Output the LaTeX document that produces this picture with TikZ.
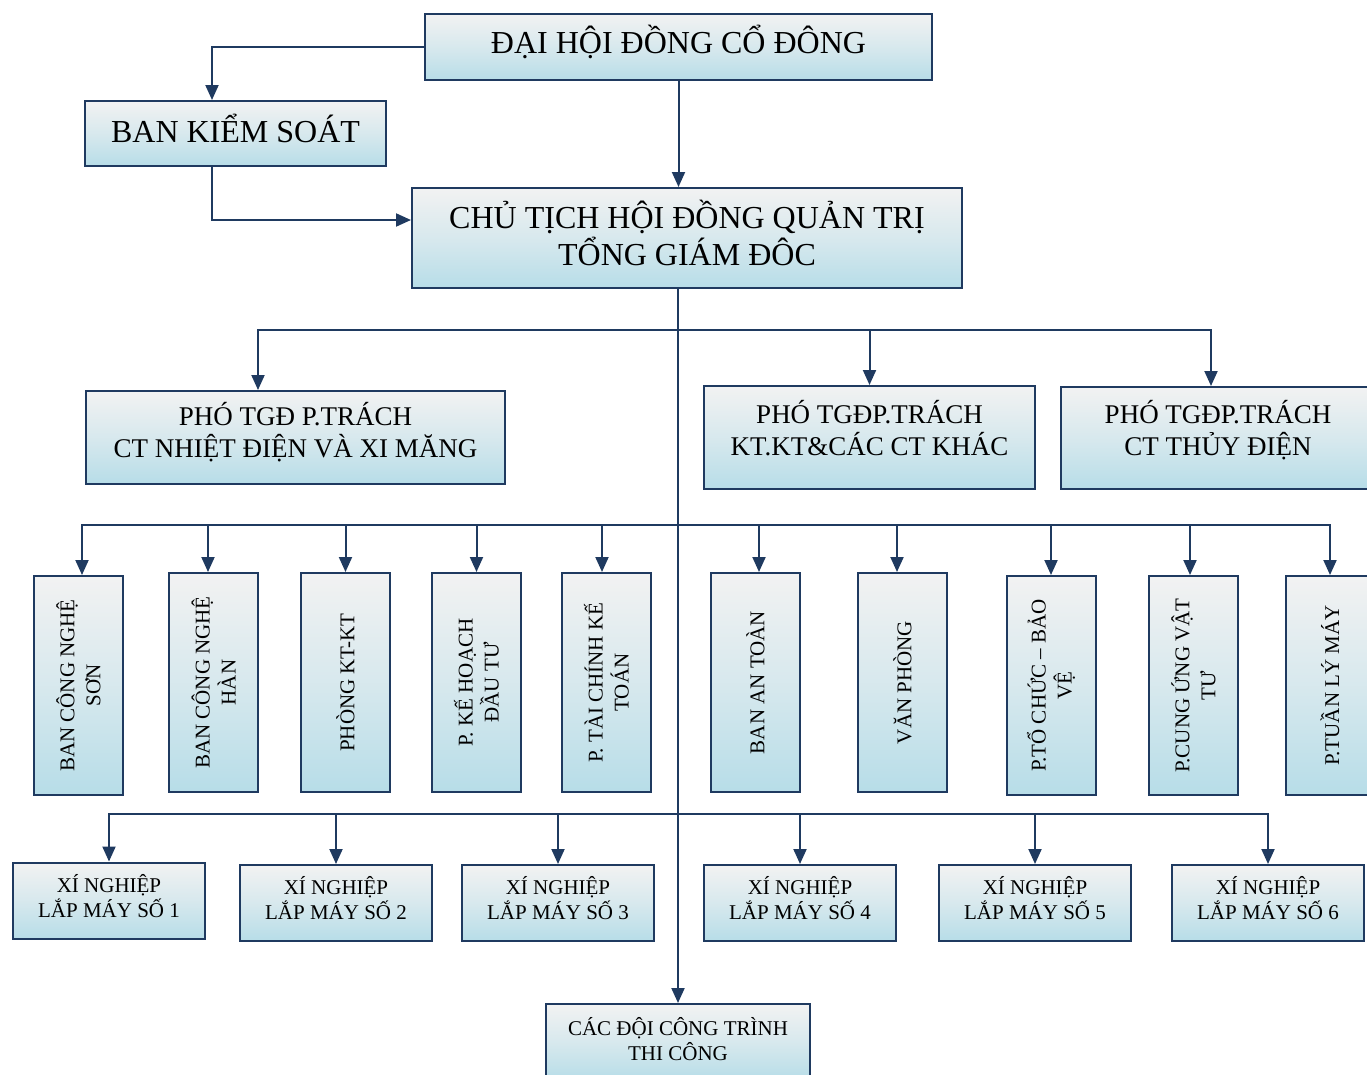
\documentclass[tikz,border=0pt]{standalone}
\usepackage{fontspec}
\setmainfont{Liberation Serif}
\usepackage{xcolor}
\usetikzlibrary{arrows.meta}
\definecolor{navy}{HTML}{1F3A60}
\definecolor{boxtop}{HTML}{F2F2F2}
\definecolor{boxbot}{HTML}{B7DDE8}

\begin{document}
\begin{tikzpicture}[x=1pt, y=-1pt,
  box/.style={draw=navy, line width=2pt, top color=boxtop, bottom color=boxbot, middle color=boxtop!55!boxbot, align=center, inner sep=0pt},
  bigbox/.style={box, text depth=10pt, font=\fontsize{32}{37}\selectfont},
  phobox/.style={box, font=\fontsize{27}{32}\selectfont},
  vbox/.style={box, minimum width=89pt, minimum height=219pt},
  vtext/.style={rotate=90, align=center, inner sep=0pt, font=\fontsize{21}{26}\selectfont},
  xnbox/.style={box, text depth=10pt, minimum width=192pt, minimum height=76pt, font=\fontsize{21}{25}\selectfont},
  line/.style={-{Triangle[length=15pt, width=13pt]}, line width=2pt, draw=navy}
]
  \useasboundingbox (0,0) rectangle (1367,1074);

  % top levels
  \node[bigbox, text depth=15pt, minimum width=507pt, minimum height=66pt] (dhcd) at (678.5,47) {ĐẠI HỘI ĐỒNG CỔ ĐÔNG};
  \node[bigbox, minimum width=301pt, minimum height=65pt] (bks) at (235.5,133.5) {BAN KIỂM SOÁT};
  \node[bigbox, minimum width=550pt, minimum height=100pt] (ctgd) at (687,238) {CHỦ TỊCH HỘI ĐỒNG QUẢN TRỊ\\TỔNG GIÁM ĐÔC};

  % deputies
  \node[phobox, text depth=15pt, minimum width=419pt, minimum height=93pt] (pho1) at (295.5,437.5) {PHÓ TGĐ P.TRÁCH\\CT NHIỆT ĐIỆN VÀ XI MĂNG};
  \node[phobox, text depth=19pt, minimum width=331pt, minimum height=103pt] (pho2) at (869.5,437.5) {PHÓ TGĐP.TRÁCH\\KT.KT\&CÁC CT KHÁC};
  \node[phobox, text depth=20pt, minimum width=314pt, minimum height=102pt] (pho3) at (1218,438) {PHÓ TGĐP.TRÁCH\\CT THỦY ĐIỆN};

  % departments
  \node[vbox] (son) at (78.5,685.5) {};
  \node[vbox] (han) at (213.5,682.5) {};
  \node[vbox] (ktkt) at (345.5,682.5) {};
  \node[vbox] (khdt) at (476.5,682.5) {};
  \node[vbox] (tckt) at (606.5,682.5) {};
  \node[vbox] (antoan) at (755.5,682.5) {};
  \node[vbox] (vanphong) at (902.5,682.5) {};
  \node[vbox] (tcbv) at (1051,685.5) {};
  \node[vbox] (cuvt) at (1193.5,685.5) {};
  \node[vbox] (tlm) at (1330,685.5) {};
  \node[vtext] (son-t) at (son) {BAN CÔNG NGHỆ\\SƠN};
  \node[vtext] (han-t) at (han) {BAN CÔNG NGHỆ\\HÀN};
  \node[vtext] (ktkt-t) at (ktkt) {PHÒNG KT-KT};
  \node[vtext] (khdt-t) at (khdt) {P. KẾ HOẠCH\\ĐẦU TƯ};
  \node[vtext] (tckt-t) at (tckt) {P. TÀI CHÍNH KẾ\\TOÁN};
  \node[vtext] (antoan-t) at (antoan) {BAN AN TOÀN};
  \node[vtext] (vanphong-t) at (vanphong) {VĂN PHÒNG};
  \node[vtext] (tcbv-t) at (tcbv) {P.TỔ CHỨC – BẢO\\VỆ};
  \node[vtext] (cuvt-t) at (cuvt) {P.CUNG ỨNG VẬT\\TƯ};
  \node[vtext] (tlm-t) at (tlm) {P.TUẦN LÝ MÁY};

  % enterprises
  \node[xnbox] (xn1) at (109,900.5) {XÍ NGHIỆP\\LẮP MÁY SỐ 1};
  \node[xnbox] (xn2) at (336,903) {XÍ NGHIỆP\\LẮP MÁY SỐ 2};
  \node[xnbox] (xn3) at (558,903) {XÍ NGHIỆP\\LẮP MÁY SỐ 3};
  \node[xnbox] (xn4) at (800,903) {XÍ NGHIỆP\\LẮP MÁY SỐ 4};
  \node[xnbox] (xn5) at (1035,903) {XÍ NGHIỆP\\LẮP MÁY SỐ 5};
  \node[xnbox] (xn6) at (1268,903) {XÍ NGHIỆP\\LẮP MÁY SỐ 6};
  \node[xnbox, text depth=6pt, minimum width=264pt] (cacdoi) at (678,1042) {CÁC ĐỘI CÔNG TRÌNH\\THI CÔNG};

  % bus rows on the trunk
  \coordinate (r1) at (678,330);
  \coordinate (r2) at (678,525);
  \coordinate (r3) at (678,814);

  \draw[line] (dhcd.west) -| ([xshift=-23.5pt]bks.north);
  \draw[line] (dhcd.south) -- (dhcd.south |- ctgd.north);
  \draw[line] ([xshift=-23.5pt]bks.south) |- ([yshift=18pt]ctgd.west);
  \draw[line] (cacdoi.north |- ctgd.south) -- (cacdoi.north);

  \draw[line] (r1) -| ([xshift=-37.5pt]pho1.north);
  \draw[line] (r1) -| (pho2.north);
  \draw[line] (r1) -| ([xshift=-7pt]pho3.north);

  \draw[line] (r2) -| ([xshift=3.5pt]son.north);
  \draw[line] (r2) -| ([xshift=-5.5pt]han.north);
  \draw[line] (r2) -| (ktkt.north);
  \draw[line] (r2) -| (khdt.north);
  \draw[line] (r2) -| ([xshift=-4.5pt]tckt.north);
  \draw[line] (r2) -| ([xshift=3.5pt]antoan.north);
  \draw[line] (r2) -| ([xshift=-5.5pt]vanphong.north);
  \draw[line] (r2) -| (tcbv.north);
  \draw[line] (r2) -| ([xshift=-3.5pt]cuvt.north);
  \draw[line] (r2) -| (tlm.north);

  \draw[line] (r3) -| (xn1.north);
  \draw[line] (r3) -| (xn2.north);
  \draw[line] (r3) -| (xn3.north);
  \draw[line] (r3) -| (xn4.north);
  \draw[line] (r3) -| (xn5.north);
  \draw[line] (r3) -| (xn6.north);
\end{tikzpicture}
\end{document}
